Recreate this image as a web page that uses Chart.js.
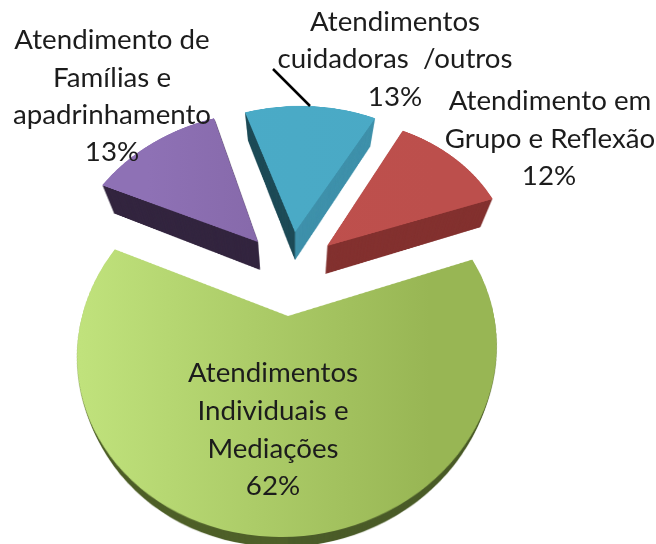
<!DOCTYPE html>
<html><head><meta charset="utf-8">
<style>html,body{margin:0;padding:0;background:#fff;overflow:hidden}canvas{display:block;filter:blur(0.5px)}</style>
<script src="https://cdn.jsdelivr.net/npm/chart.js@4"></script>
</head><body>
<canvas id="c" width="656" height="544"></canvas>
<script>
const categories=["Atendimentos cuidadoras /outros","Atendimento em Grupo e Reflexão","Atendimentos Individuais e Mediações","Atendimento de Famílias e apadrinhamento"];
const values=[13,12,62,13];
const faceLeft=["#4aabc7","#c0504d","#c0e27c","#8e71b5"];
const faceRight=["#4aa9c5","#bc4f4c","#98b654","#7f62a0"];
const wallLeft=["#1f4c58","#83312f","#4f6029","#33253f"];
const wallRight=["#3f91ab","#83312f","#4b5c29","#33253f"];
// per-slice perspective: apex x, apex y, x scale, y scale, shear, perspective, side wall depth
const apexX=[295,327,288,258];
const apexY=[232,246,316,242];
const scaleX=[187,184,206,186];
const scaleY=[145,147,179,150];
const shear=[-6,-2,-6,-13];
const persp=[0.15,0.15,0.19,0.15];
const depth=[28,28,10,28];
const labelFont='27.7px Lato';
const labels=[
 ["Atendimentos",395,31],["cuidadoras  /outros",395,68],["13%",395,106],
 ["Atendimento de",112,49],["Famílias e",112,87],["apadrinhamento",112,124],["13%",112,161],
 ["Atendimento em",550,110],["Grupo e Reflexão",550,148],["12%",549,185],
 ["Atendimentos",273,382],["Individuais e",273,420],["Mediações",273,458],["62%",273,495]
];
const W=656,H=544;
function mk(){const c=document.createElement('canvas');c.width=W;c.height=H;return c;}
function project(src,i,el,out){
  const ax=apexX[i],ay=apexY[i],A=scaleX[i],B=scaleY[i],S=shear[i],k=persp[i],R=el.outerRadius;
  const top=Math.max(0,Math.floor(ay-B/(1+k)-3)),bot=Math.min(H,Math.ceil(ay+B/(1-k)+3));
  for(let y=top;y<bot;y++){
    const dy=y+.5-ay,v=dy/(B+k*dy),d=1-k*v,sx=A/d/R;
    const v2=(dy+1)/(B+k*(dy+1)),h=Math.max(.5,(v2-v)*R);
    out.drawImage(src,0,el.y+v*R-h/2,W,h,ax+S*v/d-el.x*sx,y,W*sx,1);
  }
}
const pseudo3d={id:'pseudo3d',
  beforeDatasetsDraw(){return false;},
  afterDraw(chart){
    const ctx=chart.ctx,arcs=chart.getDatasetMeta(0).data;
    [0,1,3,2].forEach(i=>{
      const el=arcs[i];
      const src=mk();el.draw(src.getContext('2d'));
      const face=mk(),f=face.getContext('2d');
      project(src,i,el,f);
      const wall=mk(),w=wall.getContext('2d');
      w.drawImage(face,0,0);
      w.globalCompositeOperation='source-in';
      const gw=w.createLinearGradient(apexX[i]-1,0,apexX[i]+1,0);
      gw.addColorStop(0,wallLeft[i]);gw.addColorStop(1,wallRight[i]);
      w.fillStyle=gw;w.fillRect(0,0,W,H);
      for(let t=depth[i];t>=1;t--){
        const s=1-0.06*t/28,cx=295;
        ctx.drawImage(wall,cx-cx*s,t,W*s,H);
      }
      f.globalCompositeOperation='source-atop';
      const g=f.createLinearGradient(i===2?80:apexX[i]-110,0,i===2?430:apexX[i]+110,0);
      g.addColorStop(0,faceLeft[i]);g.addColorStop(1,faceRight[i]);
      f.fillStyle=g;f.fillRect(0,0,W,H);
      ctx.drawImage(face,0,0);
    });
    ctx.save();
    ctx.strokeStyle='#000';ctx.lineWidth=2.5;
    ctx.beginPath();ctx.moveTo(273,69);ctx.lineTo(310,106);ctx.stroke();
    ctx.fillStyle='#1c1c1c';ctx.font=labelFont;ctx.textAlign='center';ctx.textBaseline='alphabetic';
    labels.forEach(l=>ctx.fillText(l[0],l[1],l[2]));
    ctx.restore();
  }
};
new Chart(document.getElementById('c'),{
  type:'pie',
  data:{labels:categories,datasets:[{data:values,backgroundColor:faceLeft,borderWidth:0}]},
  options:{responsive:false,animation:false,rotation:-19.6,
    layout:{padding:0},
    plugins:{legend:{display:false},tooltip:{enabled:false}}},
  plugins:[pseudo3d]
});
</script>
</body></html>
